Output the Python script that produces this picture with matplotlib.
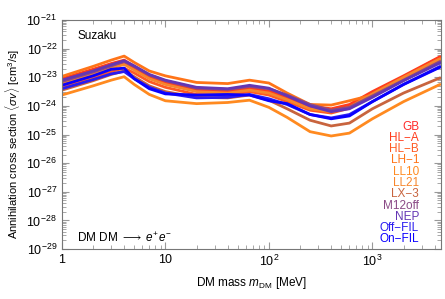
import numpy as np
import matplotlib
matplotlib.use("Agg")
from matplotlib import pyplot as plt
from matplotlib.ticker import LogLocator, NullFormatter, FuncFormatter

plt.rcParams["font.family"] = ["Liberation Sans", "DejaVu Sans"]
plt.rcParams["mathtext.fontset"] = "custom"
plt.rcParams["mathtext.rm"] = "Liberation Sans"
plt.rcParams["mathtext.it"] = "Liberation Sans:italic"

# DM mass grid [MeV]
mass = [1, 2, 3, 4, 5, 7, 10, 20, 40, 65, 100, 150, 250, 400, 600, 1000, 2000, 4500]

# log10 of <sigma v> [cm^3/s]
names = ["GB", "HL-A", "HL-B", "LH-1", "LL10", "LL21", "LX-3", "M12off", "NEP", "Off-FIL", "On-FIL"]
colors = ["#ff2a2a", "#ff3c1c", "#ff5a22", "#ff7418", "#ff8a20", "#f7862c",
          "#c8643e", "#8a4a86", "#6436b4", "#2a1cf0", "#0a00ff"]

gb = [-23.12, -22.80, -22.60, -22.48, -22.68, -22.98, -23.18, -23.45, -23.52, -23.45, -23.50, -23.72, -24.05, -24.18, -24.02, -23.55, -22.98, -22.30]
hl_a = [-23.05, -22.72, -22.52, -22.40, -22.62, -22.95, -23.15, -23.40, -23.45, -23.38, -23.48, -23.70, -24.00, -24.10, -23.95, -23.50, -22.95, -22.28]
hl_b = [-23.35, -23.02, -22.80, -22.68, -22.85, -23.15, -23.35, -23.60, -23.62, -23.50, -23.62, -23.85, -24.15, -24.25, -24.08, -23.62, -23.05, -22.40]
lh_1 = [-22.97, -22.62, -22.40, -22.26, -22.48, -22.78, -22.95, -23.18, -23.22, -23.10, -23.20, -23.55, -23.95, -23.97, -23.82, -23.62, -23.05, -22.38]
ll10 = [-23.62, -23.30, -23.10, -22.98, -23.25, -23.60, -23.82, -23.92, -23.88, -23.80, -24.05, -24.40, -24.90, -25.05, -24.95, -24.45, -23.85, -23.25]
ll21 = [-23.22, -22.90, -22.68, -22.55, -22.75, -23.05, -23.25, -23.50, -23.55, -23.45, -23.55, -23.78, -24.10, -24.20, -24.05, -23.58, -23.00, -22.35]
lx_3 = [-23.45, -23.12, -22.90, -22.78, -22.98, -23.30, -23.50, -23.70, -23.72, -23.62, -23.80, -24.10, -24.50, -24.70, -24.60, -24.10, -23.55, -23.02]
m12off = [-23.15, -22.82, -22.60, -22.45, -22.62, -22.92, -23.12, -23.38, -23.42, -23.32, -23.40, -23.62, -23.95, -24.15, -24.05, -23.65, -23.10, -22.45]
nep = [-23.10, -22.78, -22.56, -22.42, -22.60, -22.90, -23.10, -23.35, -23.40, -23.28, -23.38, -23.65, -24.00, -24.20, -24.10, -23.70, -23.12, -22.50]
off_fil = [-23.40, -23.08, -22.88, -22.80, -23.05, -23.35, -23.55, -23.72, -23.70, -23.60, -23.75, -23.95, -24.30, -24.42, -24.30, -23.85, -23.25, -22.62]
on_fil = [-23.28, -22.95, -22.72, -22.68, -23.05, -23.40, -23.58, -23.62, -23.60, -23.62, -23.82, -23.92, -24.30, -24.45, -24.35, -23.85, -23.25, -22.65]

curves = [gb, hl_a, hl_b, lh_1, ll10, ll21, lx_3, m12off, nep, off_fil, on_fil]

fig = plt.figure(figsize=(4.45, 2.99), dpi=100)
ax = fig.add_axes([0.139, 0.167, 0.852, 0.766])

for vals, col in zip(curves, colors):
    ax.plot(mass, 10.0 ** np.array(vals), color=col, lw=2.0,
            solid_capstyle="round", solid_joinstyle="round")

ax.set_xscale("log")
ax.set_yscale("log")
ax.set_xlim(1, 4600)
ax.set_ylim(1e-29, 1e-21)


def x_fmt(v, pos):
    e = int(round(np.log10(v)))
    if e == 0:
        return "1"
    if e == 1:
        return "10"
    return r"$10^{%d}$" % e


ax.yaxis.set_major_locator(LogLocator(base=10, numticks=20))
ax.yaxis.set_minor_locator(LogLocator(base=10, subs=np.arange(2, 10), numticks=100))
ax.yaxis.set_minor_formatter(NullFormatter())
ax.xaxis.set_major_formatter(FuncFormatter(x_fmt))
ax.xaxis.set_minor_locator(LogLocator(base=10, subs=np.arange(2, 10), numticks=100))
ax.xaxis.set_minor_formatter(NullFormatter())

ax.tick_params(which="both", direction="in", top=True, right=True, color="#999999",
               labelsize=9)
ax.tick_params(which="major", length=5)
ax.tick_params(which="minor", length=3)
for s in ax.spines.values():
    s.set_color("#777777")

ax.set_xlabel(r"DM mass $m_{\rm DM}$ [MeV]", fontsize=8.5)
ax.set_ylabel(r"Annihilation cross section $\langle\sigma v\rangle$ [cm$^3$/s]",
              fontsize=8)
ax.yaxis.set_label_coords(-0.105, 0.46)

ax.text(0.04, 0.93, "Suzaku", transform=ax.transAxes, fontsize=8.5, va="center", ha="left")
ax.text(0.04, 0.05, r"DM DM $\longrightarrow$ $e^{+}e^{-}$", transform=ax.transAxes,
        fontsize=8.5, va="center", ha="left")

# legend as coloured labels
for i, (name, col) in enumerate(zip(names, colors)):
    ax.text(0.942, 0.535 - i * 0.0493, name.replace("-", "\u2212"), color=col,
            transform=ax.transAxes, fontsize=8.5, ha="right", va="center")

fig.savefig("out.png", dpi=100)
